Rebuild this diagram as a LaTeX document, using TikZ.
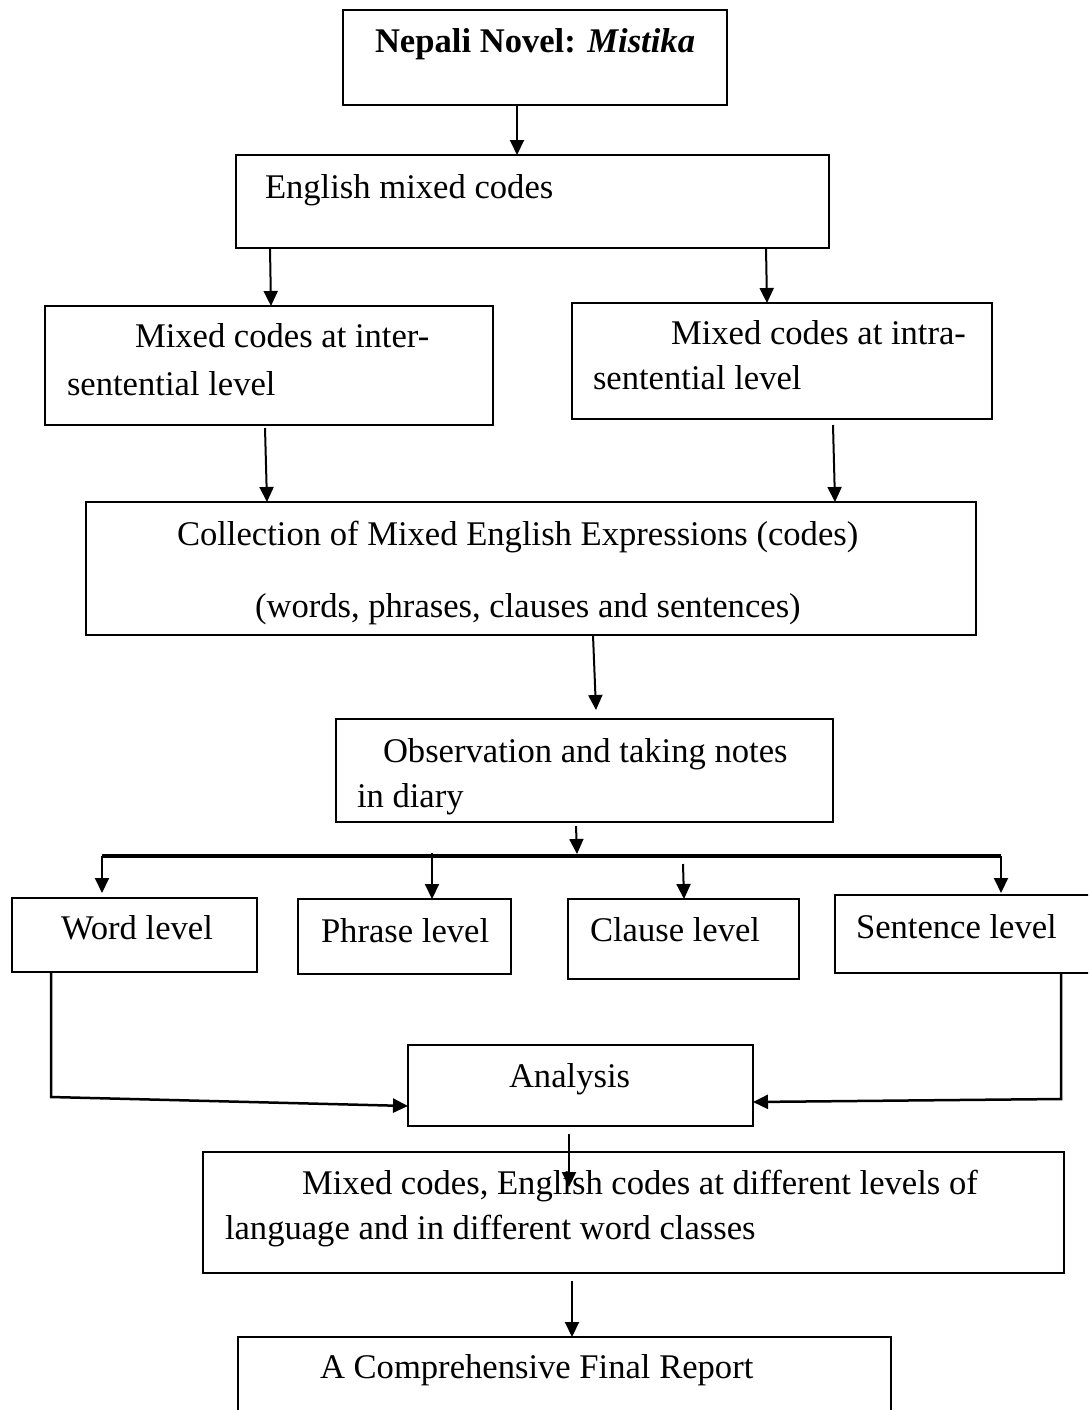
\documentclass[tikz,border=0pt]{standalone}
\usepackage{fontspec}
\setmainfont{Liberation Serif}
\usetikzlibrary{arrows.meta,fit,calc}
\begin{document}
\begin{tikzpicture}[x=1pt, y=-1pt]
% Flow chart laid out on the page grid (one unit = one pixel, y runs down)
\providecommand{\flowLineWidth}{2.6pt}
\providecommand{\flowArrowWidth}{2pt}
\providecommand{\flowFontSize}{34.6}
\tikzset{
  flowbox/.style={draw=black, line width=\flowLineWidth, inner sep=0pt, outer sep=0pt},
  flowtext/.style={anchor=base west, inner sep=0pt, outer sep=0pt, font=\fontsize{\flowFontSize}{42}\selectfont},
  flowarrow/.style={draw=black, line width=\flowArrowWidth, line join=miter, -{Triangle[length=15pt,width=14pt]}},
  flowbar/.style={draw=black, line width=3.5pt},
}
\clip (0,0) rectangle (1088,1410);
% Boxes
\node[flowbox, fit={(343,10) (727,105)}] (novel) {};
\node[flowbox, fit={(236,155) (829,248)}] (english) {};
\node[flowbox, fit={(45,306) (493,425)}] (inter) {};
\node[flowbox, fit={(572,303) (992,419)}] (intra) {};
\node[flowbox, fit={(86,502) (976,635)}] (collect) {};
\node[flowbox, fit={(336,719) (833,822)}] (observe) {};
\node[flowbox, fit={(12,898) (257,972)}] (word) {};
\node[flowbox, fit={(298,899) (511,974)}] (phrase) {};
\node[flowbox, fit={(568,899) (799,979)}] (clause) {};
\node[flowbox, fit={(835,895) (1095,973)}] (sentence) {};
\node[flowbox, fit={(408,1045) (753,1126)}] (analysis) {};
\node[flowbox, fit={(203,1152) (1064,1273)}] (mixed) {};
\node[flowbox, fit={(238,1337) (891,1425)}] (report) {};
% Texts
\node[flowtext] (novel-t) at (375,53) {\textbf{Nepali Novel: \textit{Mistika}}};
\node[flowtext] (english-t) at (265,198) {English mixed codes};
\node[flowtext] (inter-1) at (135,347) {Mixed codes at inter-};
\node[flowtext] (inter-2) at (67,395) {sentential level};
\node[flowtext] (intra-1) at (671,344) {Mixed codes at intra-};
\node[flowtext] (intra-2) at (593,389) {sentential level};
\node[flowtext] (collect-1) at (177,545) {Collection of Mixed English Expressions (codes)};
\node[flowtext] (collect-2) at (255,617) {(words, phrases, clauses and sentences)};
\node[flowtext] (observe-1) at (383,762) {Observation and taking notes};
\node[flowtext] (observe-2) at (357,807) {in diary};
\node[flowtext] (word-t) at (61,939) {Word level};
\node[flowtext] (phrase-t) at (321,942) {Phrase level};
\node[flowtext] (clause-t) at (590,941) {Clause level};
\node[flowtext] (sentence-t) at (856,938) {Sentence level};
\node[flowtext] (analysis-t) at (509,1087) {Analysis};
\node[flowtext] (mixed-1) at (302,1194) {Mixed codes, English codes at different levels of};
\node[flowtext] (mixed-2) at (225,1239) {language and in different word classes};
\node[flowtext] (report-t) at (320,1378) {A Comprehensive Final Report};
% Free ends of connectors
\coordinate (bar-w) at (102,856);
\coordinate (bar-e) at (1001,856);
\coordinate (bar-mid) at (577,854);
\coordinate (clause-in) at (683,864);
\coordinate (word-bend) at (51,1097);
\coordinate (sent-bend) at (1061,1099);
\coordinate (mixed-tip) at (569,1187);
% Arrows
\draw[flowarrow] (novel.south -| 517,0) -- (english.north -| 517,0);
\draw[flowarrow] (english.south -| 270,0) -- (inter.north -| 271,0);
\draw[flowarrow] (english.south -| 766,0) -- (intra.north -| 767,0);
\draw[flowarrow] ($(inter.south -| 265,0)+(0,3)$) -- (collect.north -| 267,0);
\draw[flowarrow] ($(intra.south -| 833,0)+(0,6)$) -- (collect.north -| 835,0);
\draw[flowarrow] (collect.south -| 593,0) -- ($(observe.north -| 596,0)+(0,-9)$);
\draw[flowarrow] ($(observe.south -| 576,0)+(0,4)$) -- (bar-mid);
\draw[flowbar] (bar-w) -- (bar-e);
\draw[flowarrow] (bar-w) -- ($(word.north -| bar-w)+(0,-5)$);
\draw[flowarrow] (432,853) -- (phrase.north -| 432,0);
\draw[flowarrow] (clause-in) -- (clause.north -| 684,0);
\draw[flowarrow] (bar-e) -- ($(sentence.north -| bar-e)+(0,-2)$);
\draw[flowarrow, line width=2.5pt] (word.south -| word-bend) -- (word-bend) -- (analysis.west |- 0,1106);
\draw[flowarrow, line width=2.5pt] (sentence.south -| sent-bend) -- (sent-bend) -- (analysis.east |- 0,1102);
\draw[flowarrow] ($(analysis.south -| mixed-tip)+(0,8)$) -- (mixed-tip);
\draw[flowarrow] ($(mixed.south -| 572,0)+(0,8)$) -- (report.north -| 572,0);
\end{tikzpicture}
\end{document}
